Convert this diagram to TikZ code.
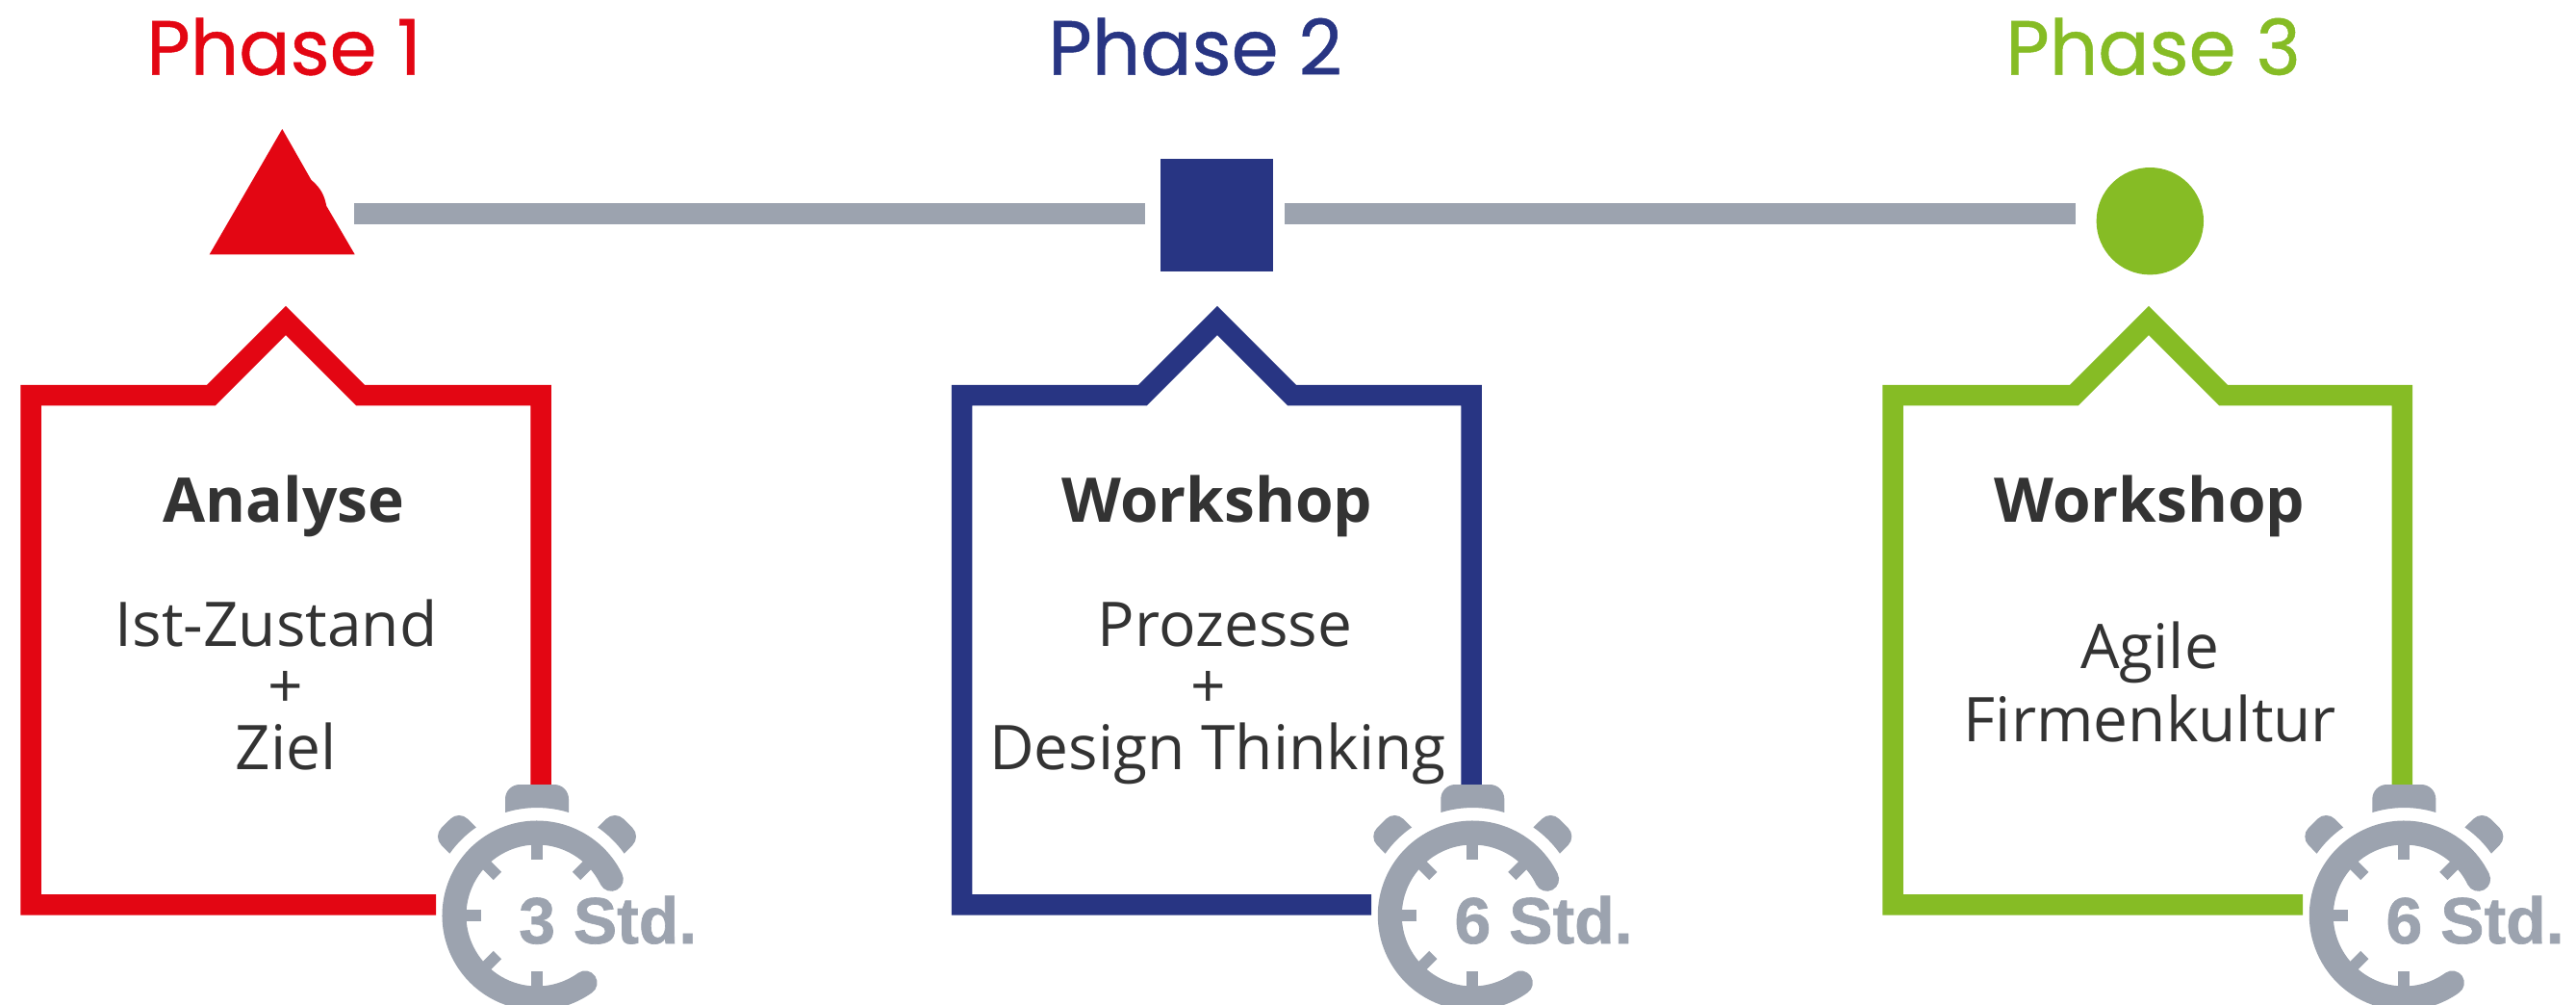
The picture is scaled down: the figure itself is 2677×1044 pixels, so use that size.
\documentclass[tikz,border=0pt]{standalone}
\usepackage{fontspec}
\setmainfont{Open Sans}
\newfontfamily\headfont[FakeBold=0.6,FakeStretch=0.985]{Poppins}
\newfontfamily\stdfont[FakeBold=1]{Liberation Sans}
\definecolor{cred}{HTML}{E30613}
\definecolor{cblue}{HTML}{283583}
\definecolor{cgreen}{HTML}{86BC25}
\definecolor{cgrey}{HTML}{9CA3AF}
\definecolor{ctext}{HTML}{333333}
\tikzset{
  x=1pt,y=-1pt,
  phasehead/.style={anchor=base west,inner sep=0pt,font=\headfont\fontsize{80}{80}\selectfont},
  boxtitle/.style={anchor=base,inner sep=0pt,text=ctext,font=\fontsize{64}{64}\selectfont\bfseries},
  boxtext/.style={anchor=base,inner sep=0pt,text=ctext,font=\fontsize{64}{64}\selectfont},
  stdtext/.style={anchor=base west,inner sep=0pt,text=cgrey,font=\stdfont\fontsize{68}{68}\selectfont\bfseries},
  timeline/.style={draw=cgrey,line width=21.7pt},
  frameline/.style={line width=21.5pt,miter limit=10},
  watchtick/.style={draw=cgrey,line width=11.7pt},
}
% #1 colour, #2 left, #3 apex x, #4 right, #5 bottom line end
\newcommand{\phaseframe}[5]{%
  \draw[frameline,draw=#1] (#5,939.8) -- (#2,939.8) -- (#2,410.5) -- (#3-77.5,410.5) -- (#3,333) -- (#3+77.5,410.5) -- (#4,410.5) -- (#4,815);
}
\newcommand{\watchear}{%
  \fill[cgrey] (-63.3,91.7) -- (-72,100.3) arc[start angle=45,end angle=135,radius=12.7]
    -- (-99.3,91) arc[start angle=135,end angle=225,radius=12.7]
    -- (-90.7,64.3) arc[start angle=144.7,end angle=124.6,radius=111.3] -- cycle;
}
% #1 centre x, #2 node name, #3 label; inside the scope y runs upwards
\newcommand{\stopwatch}[3]{%
  \begin{scope}[shift={(#1,951)},y=1pt]
    \draw[cgrey,line width=25pt,line cap=round]
      (26:86) arc[start angle=26,end angle=305.6,radius=86];
    \foreach \a in {90,135,45,180,225,270}
      \draw[watchtick] (\a:58) -- (\a:76);
    \fill[cgrey] (-33,107) -- (-33,121) arc[start angle=180,end angle=90,radius=15]
      -- (18,136) arc[start angle=90,end angle=0,radius=15]
      -- (33,107) arc[start angle=72.9,end angle=107.1,radius=112] -- cycle;
    \watchear
    \begin{scope}[xscale=-1]\watchear\end{scope}
  \end{scope}
  \node[stdtext] (#2) at (#1-19,980) {#3};
}
\begin{document}
\begin{tikzpicture}
\useasboundingbox (0,0) rectangle (2677,1044);
% headings
\node[phasehead,text=cred] (h1) at (152,77.7) {Phase 1};
\node[phasehead,text=cblue] (h2) at (1089,77.7) {Phase 2};
\node[phasehead,text=cgreen] (h3) at (2084,77.7) {Phase 3};
% markers
\fill[cred] (293.3,134) -- (323.3,186.7) .. controls (334,196) and (337,203) .. (339.3,214) -- (368.7,264.3) -- (217.7,264.3) -- cycle;
\coordinate (m1) at (368,221.8);
\node[fill=cblue,inner sep=0pt,minimum size=117pt] (m2) at (1264.5,223.5) {};
\node[fill=cgreen,circle,inner sep=0pt,minimum size=111.4pt] (m3) at (2234.3,229.7) {};
\draw[timeline] (m1) -- ([shift={(-16,-1.7)}]m2.west);
\draw[timeline] ([shift={(12,-1.7)}]m2.east) -- ([shift={(-21.7,-7.9)}]m3.west);
% frames
\phaseframe{cred}{32}{297}{562}{453}
\phaseframe{cblue}{999.5}{1265}{1529}{1425}
\phaseframe{cgreen}{1967}{2233}{2496.3}{2393}
% texts
\node[boxtitle] (t1) at (295,542.7) {Analyse};
\node[boxtext] (a1) at (287,671) {Ist-Zustand};
\node[boxtext] (a2) at (297,735) {+};
\node[boxtext] (a3) at (297,799) {Ziel};
\node[boxtitle] (t2) at (1265,542.7) {Workshop};
\node[boxtext] (b1) at (1273,671) {Prozesse};
\node[boxtext] (b2) at (1256,735) {+};
\node[boxtext] (b3) at (1265.5,799) {Design Thinking};
\node[boxtitle] (t3) at (2234,542.7) {Workshop};
\node[boxtext] (c1) at (2234,694) {Agile};
\node[boxtext] (c2) at (2234.5,770) {Firmenkultur};
% stopwatches
\stopwatch{558}{stdA}{3 Std.}
\stopwatch{1530.3}{stdB}{6 Std.}
\stopwatch{2498.3}{stdC}{6 Std.}
\end{tikzpicture}
\end{document}
